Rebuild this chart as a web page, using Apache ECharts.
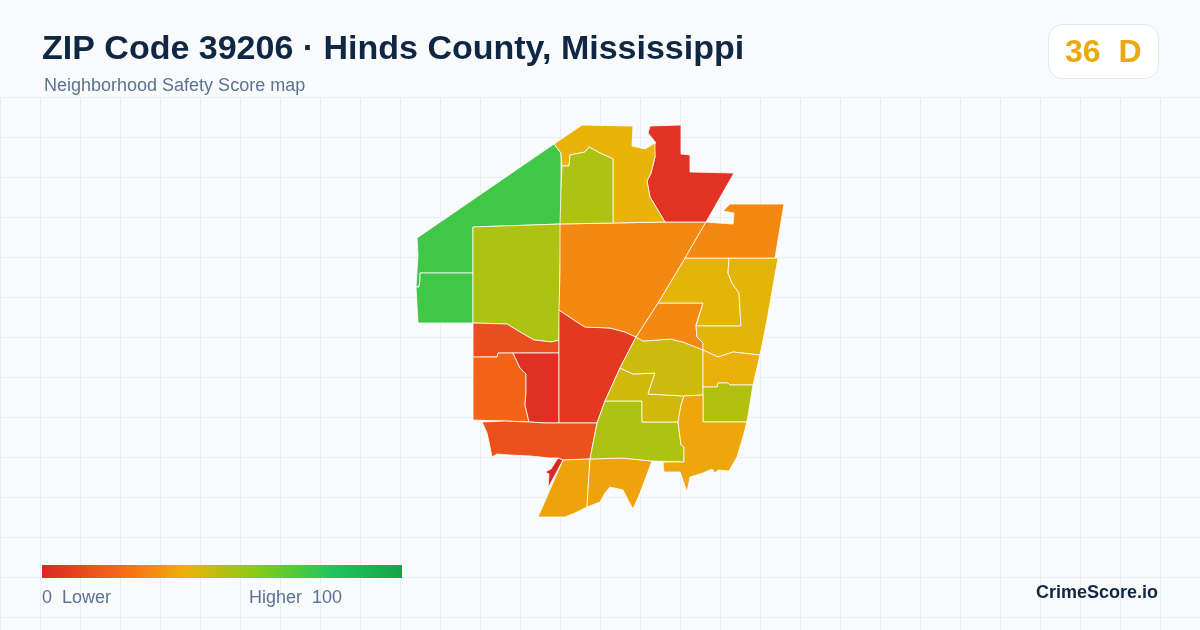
<!DOCTYPE html>
<html>
<head>
<meta charset="utf-8">
<style>
  html, body { margin: 0; padding: 0; background: #f8fafc; }
  #chart { width: 1200px; height: 630px; }
</style>
<script src="https://cdn.jsdelivr.net/npm/echarts@6/dist/echarts.min.js"></script>
</head>
<body>
<div id="chart"></div>
<script>
const titleText = "ZIP Code 39206 · Hinds County, Mississippi";
const subtitleText = "Neighborhood Safety Score map";
const badgeText = "36  D";
const brandText = "CrimeScore.io";
const legendLow = "0  Lower";
const legendHigh = "Higher  100";

// score scale: value -> colour
const scaleValues = [0, 25, 40, 60, 80, 100];
const scaleColors = ["#dc2626", "#f97316", "#eab308", "#84cc16", "#22c55e", "#16a34a"];

// neighbourhoods
const areaNames = ["a1", "a2", "a3", "a4", "a5", "a6", "a7", "a8", "a9", "a10", "a11", "a12",
  "a13", "a14", "a15", "a16", "a17", "a18", "a19", "a20", "a21", "a22", "a23"];
const areaScores = [74, 74, 52, 13, 20, 3, 6, 14, 0, 36, 36, 52, 45, 46, 30, 41, 41, 39, 51, 37, 30, 30, 4];
const areaRings = [
  [[417,238],[554,144],[561,153],[561,224],[532,225],[473,227],[473,273],[420,273],[420,280],[419,287],[416,287],[418,255]],
  [[420,273],[473,273],[473,323],[418,323],[416,287],[419,287],[420,280]],
  [[473,227],[532,225],[561,224],[560,270],[559,340],[552,342],[534,340],[520,332],[507,324],[473,323]],
  [[473,323],[507,324],[520,332],[534,340],[552,342],[559,340],[559,353],[529,353],[513,353],[498,353],[497,357],[473,357]],
  [[473,357],[497,357],[498,353],[513,353],[520,368],[526,374],[526,392],[525,405],[529,422],[505,421],[473,420]],
  [[513,353],[559,353],[559,423],[545,423],[529,422],[525,405],[526,392],[526,374],[520,368]],
  [[559,310],[577,322],[585,327],[610,328],[625,332],[636,337],[620,368],[605,401],[597,423],[559,423]],
  [[482,422],[505,421],[529,422],[545,423],[559,423],[597,423],[590,459],[563,460],[558,458],[550,458],[530,456],[510,455],[497,454],[492,457],[489,442],[487,433]],
  [[558,458],[563,460],[548,488],[547,488],[549,474],[545,472],[551,469]],
  [[563,460],[590,459],[588,490],[587,507],[575,513],[565,517],[538,517]],
  [[590,459],[622,458],[652,461],[640,493],[633,509],[628,500],[623,490],[610,487],[605,493],[600,502],[587,507],[588,490]],
  [[605,401],[642,401],[642,422],[678,422],[681,445],[684,447],[684,462],[652,461],[622,458],[590,459],[597,423]],
  [[620,368],[633,374],[655,373],[648,394],[684,396],[681,405],[678,422],[642,422],[642,401],[605,401]],
  [[636,337],[643,341],[658,340],[670,339],[683,342],[703,350],[703,395],[684,396],[648,394],[655,373],[633,374],[620,368]],
  [[658,303],[703,303],[696,325],[697,337],[703,343],[703,350],[683,342],[670,339],[658,340],[643,341],[636,337]],
  [[685,258],[729,258],[728,273],[732,283],[739,293],[741,326],[696,326],[703,303],[658,303]],
  [[729,258],[778,258],[767,320],[760,355],[733,352],[718,357],[703,350],[703,343],[697,337],[696,326],[741,326],[739,293],[732,283],[728,273]],
  [[703,350],[718,357],[733,352],[760,355],[753,385],[730,385],[728,383],[718,383],[717,387],[703,387]],
  [[703,387],[717,387],[718,383],[728,383],[730,385],[753,385],[747,422],[703,422]],
  [[684,396],[703,395],[703,422],[747,422],[743,437],[737,457],[729,471],[718,470],[715,473],[712,469],[703,473],[690,477],[687,492],[680,472],[664,472],[663,463],[665,462],[684,462],[684,447],[681,445],[678,422],[681,405]],
  [[560,224],[613,223],[665,222],[706,222],[685,258],[658,303],[636,337],[625,332],[610,328],[585,327],[577,322],[559,310],[560,270]],
  [[706,222],[718,223],[733,224],[734,213],[723,211],[730,204],[784,204],[775,258],[729,258],[685,258]],
  [[650,126],[681,125],[681,154],[690,155],[690,172],[734,173],[706,222],[665,222],[650,197],[647,181],[651,173],[655,157],[654,143],[656,143],[648,133]]
];
// the two areas along the top, between the big green one and the red one
const northNames = ["a24", "a25"];
const northScores = [40, 52];
const northRings = [
  [[554,144],[582,125],[633,126],[632,146],[645,149],[655,143],[655,157],[651,173],[647,181],[650,197],[665,222],[613,223],[613,159],[600,153],[589,147],[585,152],[570,155],[569,166],[562,166],[561,153]],
  [[562,166],[569,166],[570,155],[585,152],[589,147],[600,153],[613,159],[613,223],[560,224],[561,190]]
];

const allNames = areaNames.concat(northNames);
const allScores = areaScores.concat(northScores);
const allRings = areaRings.concat(northRings);

echarts.registerMap("zip39206", {
  type: "FeatureCollection",
  features: allNames.map(function (name, i) {
    return {
      type: "Feature",
      properties: { name: name },
      geometry: { type: "Polygon", coordinates: [allRings[i]] }
    };
  })
});

// visualMap spaces its colours evenly, so sample the scale every 5 points
const rampColors = [];
for (let v = 0; v <= 100; v += 5) {
  let k = 0;
  while (k < scaleValues.length - 2 && v > scaleValues[k + 1]) k++;
  const t = (v - scaleValues[k]) / (scaleValues[k + 1] - scaleValues[k]);
  rampColors.push(echarts.color.lerp(t, [scaleColors[k], scaleColors[k + 1]]));
}

// the visualMap bar has rounded corners we can't turn off, so the legend bar is a rect
const legendStops = scaleValues.map(function (v, i) {
  return { offset: v / 100, color: scaleColors[i] };
});

const chart = echarts.init(document.getElementById("chart"), null, { renderer: "canvas", width: 1200, height: 630 });

chart.setOption({
  animation: false,
  backgroundColor: "#f8fafc",
  grid: { left: 0, right: 0, top: 97, bottom: 0 },
  xAxis: {
    type: "value", min: 0, max: 1200, interval: 40,
    axisLine: { show: false }, axisTick: { show: false }, axisLabel: { show: false },
    splitLine: { show: true, lineStyle: { color: "#e8eff4", width: 1 } }
  },
  yAxis: {
    type: "value", inverse: true, min: 0, max: 533, interval: 40,
    axisLine: { show: false }, axisTick: { show: false }, axisLabel: { show: false },
    splitLine: { show: true, lineStyle: { color: "#e8eff4", width: 1 } }
  },
  visualMap: {
    type: "continuous",
    show: false,
    min: 0, max: 100,
    seriesIndex: 0,
    inRange: { color: rampColors }
  },
  series: [{
    type: "map",
    map: "zip39206",
    projection: { project: function (p) { return p; }, unproject: function (p) { return p; } },
    left: 416, top: 125, width: 368, height: 392,
    aspectScale: 1,
    roam: false,
    silent: true,
    selectedMode: false,
    label: { show: false },
    itemStyle: { borderColor: "#ffffff", borderWidth: 0.8 },
    emphasis: { disabled: true },
    data: allNames.map(function (name, i) { return { name: name, value: allScores[i] }; })
  }],
  graphic: [
    { type: "text", z: 10, left: 42, top: 33, style: { text: titleText, fill: "#0f2742", font: "bold 34px 'Liberation Sans'" } },
    { type: "text", z: 10, left: 44, top: 77, style: { text: subtitleText, fill: "#5b7390", font: "18px 'Liberation Sans'" } },
    { type: "rect", z: 10, shape: { x: 1048.5, y: 24.5, width: 110, height: 54, r: 14 }, style: { fill: "#ffffff", stroke: "#e2e8f0", lineWidth: 1 } },
    { type: "text", z: 11, left: 1065, top: 37, style: { text: badgeText, fill: "#eaa90f", font: "bold 32px 'Liberation Sans'" } },
    { type: "rect", z: 10, shape: { x: 42, y: 565, width: 360, height: 13 },
      style: { fill: new echarts.graphic.LinearGradient(0, 0, 1, 0, legendStops) } },
    { type: "text", z: 10, left: 42, top: 589, style: { text: legendLow, fill: "#5b7390", font: "18px 'Liberation Sans'" } },
    { type: "text", z: 10, left: 249, top: 589, style: { text: legendHigh, fill: "#5b7390", font: "18px 'Liberation Sans'" } },
    { type: "text", z: 10, right: 42, top: 584, style: { text: brandText, fill: "#0f2742", font: "bold 18px 'Liberation Sans'" } }
  ]
});
</script>
</body>
</html>
